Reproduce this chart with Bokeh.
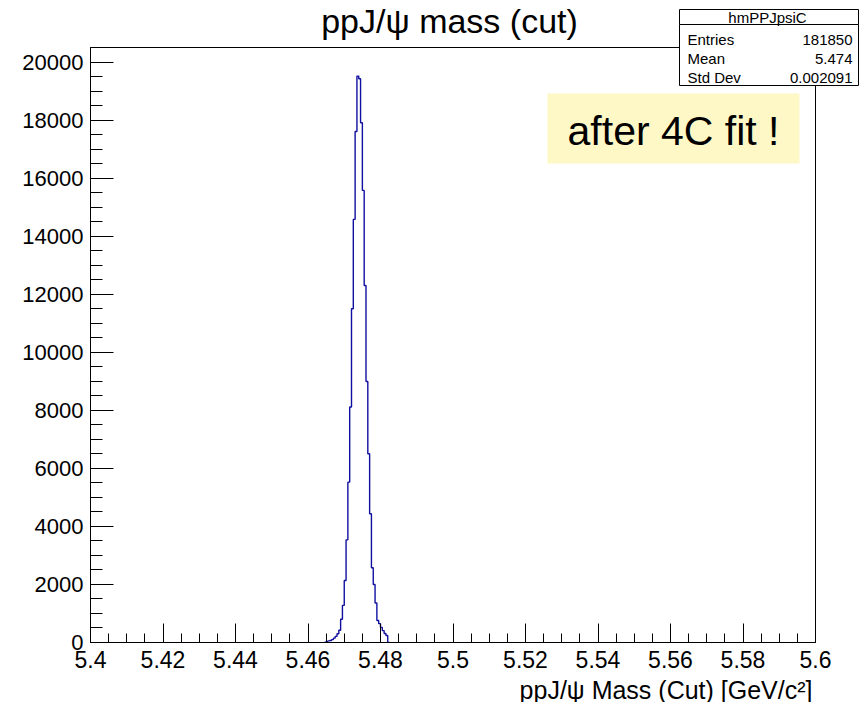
import numpy as np
from bokeh.plotting import figure
from bokeh.models import Range1d, FixedTicker, BoxAnnotation
from bokeh.core.properties import value
from bokeh.embed import file_html
from bokeh.resources import INLINE

# ---- data ----
hist_lo = 5.4                 # histogram lower edge
hist_bin_width = 0.0005       # 400 bins on [5.4, 5.6]
first_filled_bin = 129        # index of the first listed bin
bin_counts = [0, 40, 55, 70, 100, 150, 210, 300, 420, 800, 1280, 2140, 3540,
              5530, 8120, 11510, 14590, 17620, 19530, 19440, 17920, 15590,
              12310, 9000, 6510, 4440, 2580, 2000, 1360, 760, 650, 520, 410,
              310, 240, 0]

x_ticks = [5.4, 5.42, 5.44, 5.46, 5.48, 5.5, 5.52, 5.54, 5.56, 5.58, 5.6]
x_tick_labels = ["5.4", "5.42", "5.44", "5.46", "5.48", "5.5", "5.52", "5.54",
                 "5.56", "5.58", "5.6"]
y_ticks = [0, 2000, 4000, 6000, 8000, 10000, 12000, 14000, 16000, 18000, 20000]
y_tick_labels = ["0", "2000", "4000", "6000", "8000", "10000", "12000", "14000",
                 "16000", "18000", "20000"]

title_text = "ppJ/\u03c8 mass (cut)"
x_title = "ppJ/\u03c8 Mass (Cut) [GeV/c\u00b2]"
stats_title = "hmPPJpsiC"
stats_names = ["Entries", "Mean", "Std Dev"]
stats_values = ["181850", "5.474", "0.002091"]
note_text = "after 4C fit !"

FONT = "Liberation Sans"

# ---- layout (canvas pixels) ----
W, H = 859, 702
FL, FR, FT, FB = 90, 815, 47, 642   # frame edges
X0, X1 = 5.4, 5.6
Y0, Y1 = 0, 20517

p = figure(width=W, height=H, output_backend="svg", toolbar_location=None,
           x_range=Range1d(X0, X1), y_range=Range1d(Y0, Y1),
           min_border_left=FL, min_border_right=W - FR,
           min_border_top=FT, min_border_bottom=H - FB)
p.background_fill_color = "white"
p.border_fill_color = "white"
p.outline_line_color = "black"
p.outline_line_width = 1
p.xgrid.visible = False
p.ygrid.visible = False

# histogram step line
n = len(bin_counts)
edges = hist_lo + hist_bin_width * np.arange(first_filled_bin, first_filled_bin + n + 1)
xs = np.repeat(edges, 2)[1:-1]
ys = np.repeat(np.array(bin_counts, dtype=float), 2)
p.line(xs, ys, line_color="#1010a0", line_width=1.4)

# axes
xa = p.xaxis[0]
xa.ticker = FixedTicker(ticks=x_ticks,
                        minor_ticks=[round(5.4 + 0.005 * i, 4) for i in range(41)])
xa.major_label_overrides = {t: l for t, l in zip(x_ticks, x_tick_labels)}
xa.major_tick_in = 19
xa.major_tick_out = 0
xa.minor_tick_in = 9
xa.minor_tick_out = 0
xa.major_label_standoff = 8
xa.major_label_text_font = FONT
xa.major_label_text_font_size = "23px"
xa.major_label_text_color = "black"
xa.axis_line_color = "black"
xa.major_tick_line_color = "black"
xa.minor_tick_line_color = "black"

ya = p.yaxis[0]
ya.ticker = FixedTicker(ticks=y_ticks, minor_ticks=list(range(0, 20501, 500)))
ya.major_label_overrides = {t: l for t, l in zip(y_ticks, y_tick_labels)}
ya.major_tick_in = 23
ya.major_tick_out = 0
ya.minor_tick_in = 12
ya.minor_tick_out = 0
ya.major_label_standoff = 7
ya.major_label_text_font = FONT
ya.major_label_text_font_size = "22px"
ya.major_label_text_color = "black"
ya.axis_line_color = "black"
ya.major_tick_line_color = "black"
ya.minor_tick_line_color = "black"


# canvas pixel -> data position helpers (for placing overlay decorations)
def dx(X):
    return X0 + (X - FL) * (X1 - X0) / (FR - FL)


def dy(Y):
    return Y0 + (FB - Y) * (Y1 - Y0) / (FB - FT)


def text(t, X, Y, size, align="left", baseline="middle"):
    p.text(x=[dx(X)], y=[dy(Y)], text=[t], text_font=value(FONT),
           text_font_size=value(size), text_align=align,
           text_baseline=baseline, text_color="black", level="overlay")


def box(L, R, T, B, fill, line="black"):
    p.quad(left=[dx(L)], right=[dx(R)], top=[dy(T)], bottom=[dy(B)],
           fill_color=fill, line_color=line, line_width=1, level="overlay")


# title
text(title_text, 449, 1, "34px", align="center", baseline="top")

# x-axis title
text(x_title, 812, 689, "25px", align="right", baseline="middle")

# yellow note
p.add_layout(BoxAnnotation(left=dx(547), right=dx(799), top=dy(93), bottom=dy(163),
                           fill_color="#fdf8c6", fill_alpha=1.0, line_alpha=0))
text(note_text, 673, 130, "41px", align="center", baseline="middle")

# stats box
box(679, 858, 9, 24, "white")
box(679, 858, 24, 85, "white")
text(stats_title, 767, 17, "15px", align="center")
for i, (nm, vl) in enumerate(zip(stats_names, stats_values)):
    yy = 39 + 19 * i
    text(nm, 687, yy, "15px", align="left")
    text(vl, 852, yy, "15px", align="right")

open("out.html", "w").write(file_html(p, INLINE))
